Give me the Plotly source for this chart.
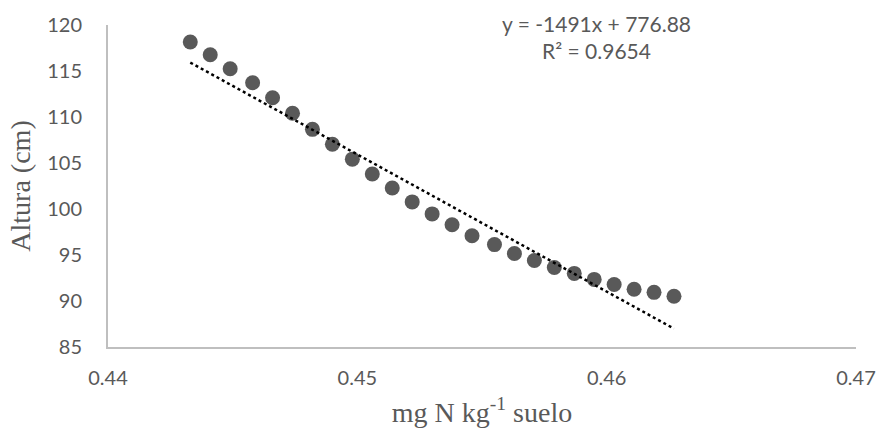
import plotly.graph_objects as go

x_vals = [0.4433, 0.4441, 0.4449, 0.4458, 0.4466, 0.4474, 0.4482, 0.4490, 0.4498,
          0.4506, 0.4514, 0.4522, 0.4530, 0.4538, 0.4546, 0.4555, 0.4563, 0.4571,
          0.4579, 0.4587, 0.4595, 0.4603, 0.4611, 0.4619, 0.4627]
y_vals = [118.16, 116.76, 115.25, 113.73, 112.1, 110.4, 108.66, 107.04, 105.42,
          103.8, 102.28, 100.77, 99.47, 98.29, 97.10, 96.13, 95.16, 94.40,
          93.64, 93.0, 92.35, 91.8, 91.27, 90.94, 90.51]
slope = -1491
intercept = 776.88
r2 = 0.9654

x_ticks = [0.44, 0.45, 0.46, 0.47]
y_ticks = [85, 90, 95, 100, 105, 110, 115, 120]

trend_x = [min(x_vals), max(x_vals)]
trend_y = [slope * v + intercept for v in trend_x]

grey = "#595959"
tick_font = dict(family="Lato, Open Sans, sans-serif", size=20, color=grey)
eq_font = dict(family="Lato, Open Sans, sans-serif", size=21, color=grey)
title_font = dict(family="Liberation Serif, Times New Roman, serif", size=28, color=grey)

fig = go.Figure()
fig.add_trace(go.Scatter(x=x_vals, y=y_vals, mode="markers",
                         marker=dict(color=grey, size=15, line=dict(width=0)),
                         showlegend=False))
fig.add_trace(go.Scatter(x=trend_x, y=trend_y, mode="lines",
                         line=dict(color="black", width=2.5, dash="dot"),
                         showlegend=False))

fig.add_annotation(x=0.4596, y=1.006, xref="x", yref="paper",
                   text=f"y = {slope}x + {intercept}", showarrow=False,
                   font=eq_font, xanchor="center", yanchor="middle")
fig.add_annotation(x=0.4596, y=0.92, xref="x", yref="paper",
                   text=f"R² = {r2}", showarrow=False,
                   font=eq_font, xanchor="center", yanchor="middle")

fig.update_layout(
    width=888, height=435,
    margin=dict(l=108, r=22, t=23, b=88),
    plot_bgcolor="white", paper_bgcolor="white",
    xaxis=dict(range=[0.44, 0.47], tickvals=x_ticks, ticktext=["0.44", "0.45", "0.46", "0.47"],
               showgrid=False, zeroline=False, showline=True, linecolor="#bfbfbf", linewidth=2,
               ticks="", tickfont=tick_font, ticklabelstandoff=12,
               title=dict(text="mg N kg<sup>-1</sup> suelo", font=title_font, standoff=14)),
    yaxis=dict(range=[85, 120], tickvals=y_ticks, showgrid=False, zeroline=False,
               showline=True, linecolor="#bfbfbf", linewidth=2,
               ticks="", tickfont=tick_font, ticklabelstandoff=20,
               title=dict(text="Altura (cm)", font=title_font, standoff=8)),
)

fig.write_html("out.html")
